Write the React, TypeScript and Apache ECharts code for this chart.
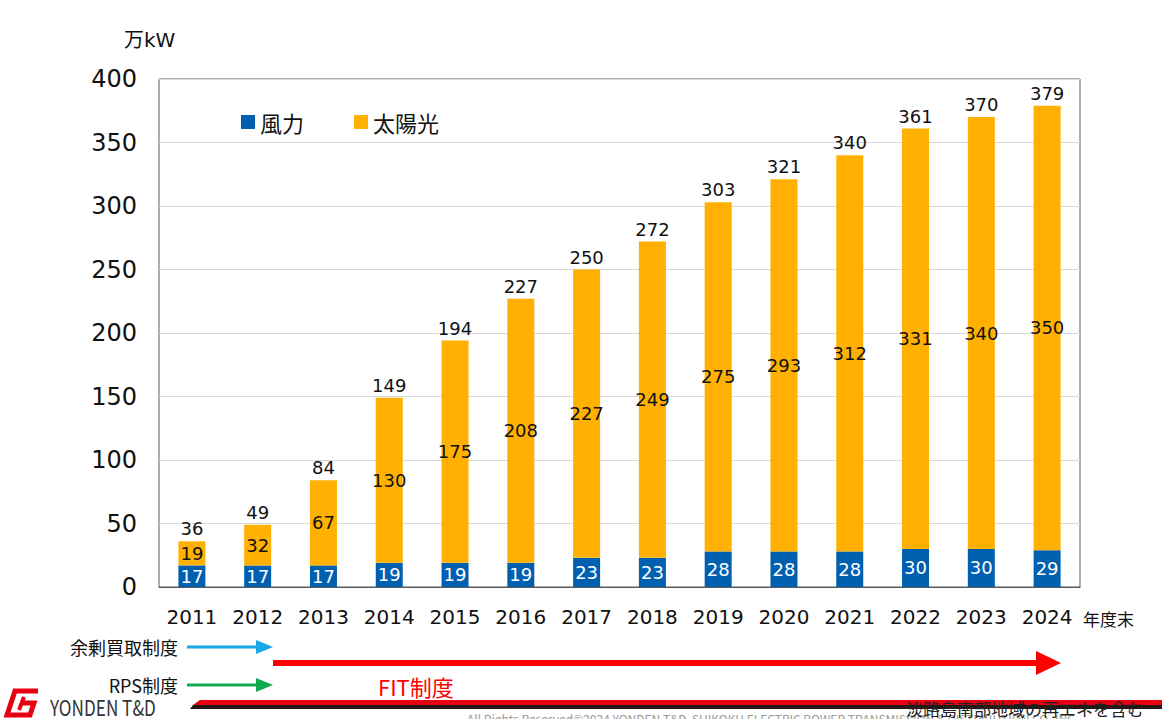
import * as echarts from "echarts";
import { useEffect, useRef } from "react";

const YEARS = ["2011", "2012", "2013", "2014", "2015", "2016", "2017", "2018", "2019", "2020", "2021", "2022", "2023", "2024"];
const WIND = [17, 17, 17, 19, 19, 19, 23, 23, 28, 28, 28, 30, 30, 29];
const SOLAR = [19, 32, 67, 130, 175, 208, 227, 249, 275, 293, 312, 331, 340, 350];
const TOTAL = [36, 49, 84, 149, 194, 227, 250, 272, 303, 321, 340, 361, 370, 379];

// DejaVu digits are close to the Verdana-like numerals of the original slide
const FONT = '"DejaVu Sans", "Noto Sans CJK JP", sans-serif';
const CJK = '"Noto Sans CJK JP", sans-serif';
const INK = "#111111";
const BLUE = "#0060b0";
const ORANGE = "#ffb000";
const RED = "#ff0000";

function buildOption(): echarts.EChartsCoreOption {
  return {
    animation: false,
    textStyle: { fontFamily: FONT },
    grid: {
      left: 159,
      right: 82,
      top: 79,
      bottom: 132,
      show: true,
      borderColor: "#595959",
      borderWidth: 1,
      backgroundColor: "transparent",
    },
    legend: {
      data: ["風力", "太陽光"],
      left: 236,
      top: 106,
      icon: "rect",
      itemWidth: 14,
      itemHeight: 14,
      itemGap: 50,
      textStyle: { color: INK, fontSize: 22, fontFamily: CJK },
    },
    xAxis: {
      type: "category",
      data: YEARS,
      axisTick: { show: false },
      axisLine: { lineStyle: { color: "#595959" } },
      axisLabel: { color: INK, fontSize: 20, margin: 20, interval: 0, fontFamily: FONT },
    },
    yAxis: {
      type: "value",
      min: 0,
      max: 400,
      interval: 50,
      axisLine: { show: false },
      axisTick: { show: false },
      splitLine: { lineStyle: { color: "#d9d9d9" } },
      axisLabel: { color: INK, fontSize: 24, margin: 22, fontFamily: FONT },
    },
    series: [
      {
        name: "風力",
        type: "bar",
        stack: "total",
        data: WIND,
        barWidth: 27,
        itemStyle: { color: BLUE },
        label: { show: true, position: "inside", color: "#ffffff", fontSize: 18, fontFamily: FONT },
      },
      {
        name: "太陽光",
        type: "bar",
        stack: "total",
        data: SOLAR,
        barWidth: 27,
        itemStyle: { color: ORANGE },
        label: { show: true, position: "inside", color: INK, fontSize: 18, fontFamily: FONT },
      },
      {
        name: "合計",
        type: "scatter",
        data: TOTAL,
        symbolSize: 1,
        itemStyle: { color: "rgba(0,0,0,0)", opacity: 1 },
        silent: true,
        label: { show: true, position: "top", distance: 3, color: INK, opacity: 1, fontSize: 18, fontFamily: FONT },
      },
    ],
    graphic: [
      { type: "text", left: 124, top: 30, style: { text: "万kW", fontSize: 20, fill: INK, fontFamily: FONT } },
      {
        type: "text",
        x: 1083,
        y: 618,
        style: { text: "年度末", fontSize: 17, fill: INK, fontFamily: CJK, textVerticalAlign: "middle" },
      },
      // 余剰買取制度
      {
        type: "text",
        x: 178,
        y: 647,
        style: { text: "余剰買取制度", fontSize: 18, fill: INK, fontFamily: CJK, textAlign: "right", textVerticalAlign: "middle" },
      },
      { type: "line", shape: { x1: 187, y1: 647, x2: 258, y2: 647 }, style: { stroke: "#1aa7e5", lineWidth: 3 } },
      { type: "polygon", shape: { points: [[256, 640], [273, 647], [256, 654]] }, style: { fill: "#1aa7e5" } },
      // FIT arrow
      { type: "line", shape: { x1: 273, y1: 663, x2: 1040, y2: 663 }, style: { stroke: RED, lineWidth: 6 } },
      { type: "polygon", shape: { points: [[1036, 651], [1061, 663], [1036, 675]] }, style: { fill: RED } },
      // RPS制度
      {
        type: "text",
        x: 178,
        y: 685,
        style: { text: "RPS制度", fontSize: 18, fill: INK, fontFamily: CJK, textAlign: "right", textVerticalAlign: "middle" },
      },
      { type: "line", shape: { x1: 187, y1: 685, x2: 258, y2: 685 }, style: { stroke: "#12a850", lineWidth: 3 } },
      { type: "polygon", shape: { points: [[256, 678], [273, 685], [256, 692]] }, style: { fill: "#12a850" } },
      {
        type: "text",
        x: 378,
        y: 686,
        style: { text: "FIT制度", fontSize: 22, fill: RED, fontFamily: CJK, textVerticalAlign: "middle" },
      },
      // footer stripes
      { type: "polygon", shape: { points: [[200, 700], [1162, 700], [1162, 705], [193, 705]] }, style: { fill: "#e60012" } },
      { type: "polygon", shape: { points: [[193, 705], [1162, 705], [1162, 709], [190, 709]] }, style: { fill: "#231815" } },
      {
        type: "text",
        x: 467,
        y: 712,
        style: {
          text: "All Rights Reserved©2024 YONDEN T&D  SHIKOKU ELECTRIC POWER TRANSMISSION & DISTRIBUTION CO.,INC",
          fontSize: 12,
          fill: "#9a9a9a",
          fontFamily: CJK,
        },
      },
      {
        type: "text",
        x: 906,
        y: 708,
        style: { text: "淡路島南部地域の再エネを含む", fontSize: 17, fill: "#222222", fontFamily: CJK, textVerticalAlign: "middle" },
      },
      // logo
      {
        type: "polyline",
        shape: { points: [[38, 691], [15, 691], [7, 715], [30, 715], [34, 703], [22, 703]] },
        style: { stroke: "#e60012", lineWidth: 5, fill: "none" },
      },
      {
        type: "polyline",
        shape: { points: [[24, 697], [19, 710]] },
        style: { stroke: "#e60012", lineWidth: 4, fill: "none" },
      },
      {
        type: "text",
        x: 50,
        y: 707,
        scaleX: 0.78,
        style: { text: "YONDEN T&D", fontSize: 22, fill: "#333333", fontFamily: CJK, textVerticalAlign: "middle" },
      },
    ],
  };
}

export default function App() {
  const ref = useRef<HTMLDivElement>(null);

  useEffect(() => {
    const el = ref.current;
    if (!el) return;
    const chart = echarts.init(el, null, { renderer: "svg" });
    chart.setOption(buildOption());
    return () => chart.dispose();
  }, []);

  return (
    <div
      ref={ref}
      style={{ position: "fixed", left: 0, top: 0, width: 1162, height: 719, background: "#ffffff" }}
    />
  );
}
